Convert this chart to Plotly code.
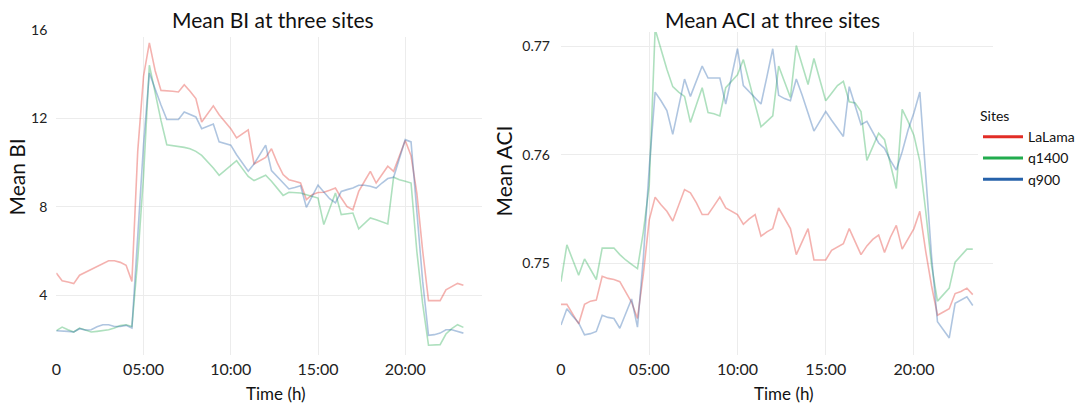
import plotly.graph_objects as go

# ---------------- data (20-min sampling, 00:00 .. 23:20) ----------------
minutes = list(range(0, 1420, 20))
hours = [m / 60 for m in minutes]

sites = ["LaLama", "q1400", "q900"]
site_colors = {"LaLama": (226, 45, 38), "q1400": (34, 172, 78), "q900": (38, 98, 170)}

bi_lalama = [5.0, 4.65, 4.59, 4.52, 4.9, 5.03, 5.15, 5.27, 5.41, 5.55, 5.55, 5.48, 5.35, 4.62,
             10.5, 13.9, 15.41, 14.15, 13.26, 13.25, 13.22, 13.19, 13.52, 13.22, 12.89, 11.83,
             12.19, 12.56, 12.16, 11.86, 11.53, 11.11, 11.29, 11.47, 9.93, 10.08, 10.23, 10.62,
             9.98, 9.45, 9.22, 9.15, 9.07, 8.32, 8.54, 8.64, 8.65, 8.74, 8.84, 8.39, 8.0, 7.86,
             8.69, 9.15, 9.6, 9.07, 9.45, 9.83, 9.6, 10.28, 10.99, 10.3, 8.6, 6.0, 3.75, 3.75,
             3.75, 4.24, 4.4, 4.53, 4.44]
bi_q1400 = [2.39, 2.55, 2.43, 2.33, 2.51, 2.43, 2.33, 2.36, 2.39, 2.43, 2.51, 2.62, 2.66, 2.58,
            5.6, 9.4, 14.4, 13.1, 11.9, 10.8, 10.77, 10.73, 10.68, 10.62, 10.5, 10.32, 10.05,
            9.75, 9.42, 9.64, 9.86, 10.08, 9.72, 9.37, 9.18, 9.3, 9.42, 9.15, 8.84, 8.51, 8.65,
            8.65, 8.62, 8.54, 8.47, 8.39, 7.19, 7.9, 8.62, 7.64, 7.68, 7.71, 7.0, 7.26, 7.49,
            7.41, 7.31, 7.22, 9.33, 9.22, 9.15, 9.07, 5.96, 3.6, 1.73, 1.73, 1.76, 2.24, 2.48,
            2.66, 2.54]
bi_q900 = [2.39, 2.39, 2.36, 2.33, 2.48, 2.42, 2.43, 2.57, 2.66, 2.66, 2.58, 2.58, 2.63, 2.51,
           6.6, 10.8, 14.05, 13.3, 12.6, 11.94, 11.94, 11.94, 12.28, 12.16, 12.06, 11.53, 11.63,
           11.74, 10.93, 10.85, 10.78, 10.35, 9.98, 9.6, 9.93, 10.35, 10.78, 9.63, 9.34, 9.07,
           8.8, 8.87, 8.95, 7.97, 8.47, 8.97, 8.66, 8.36, 8.17, 8.69, 8.77, 8.84, 8.97, 8.97,
           8.92, 8.84, 9.07, 9.27, 9.33, 10.2, 11.03, 10.93, 7.74, 4.62, 2.18, 2.21, 2.28, 2.43,
           2.43, 2.36, 2.28]

aci_lalama = [0.7462, 0.7462, 0.7453, 0.7444, 0.7462, 0.7465, 0.7466, 0.7488, 0.7486, 0.7485,
              0.7483, 0.7474, 0.7464, 0.7449, 0.7490, 0.7540, 0.7561, 0.7554, 0.7548, 0.7539,
              0.7554, 0.7568, 0.7565, 0.7556, 0.7545, 0.7545, 0.7553, 0.7561, 0.7551, 0.7548,
              0.7545, 0.7536, 0.7541, 0.7545, 0.7525, 0.7529, 0.7532, 0.7551, 0.7542, 0.7532,
              0.7508, 0.7520, 0.7532, 0.7503, 0.7503, 0.7503, 0.7512, 0.7515, 0.7518, 0.7532,
              0.7520, 0.7508, 0.7516, 0.7522, 0.7526, 0.7510, 0.7524, 0.7535, 0.7513, 0.7523,
              0.7532, 0.7548, 0.7511, 0.7479, 0.7452, 0.7455, 0.7458, 0.7472, 0.7474, 0.7477,
              0.7471]
aci_q1400 = [0.7483, 0.7517, 0.7503, 0.7489, 0.7504, 0.7495, 0.7485, 0.7514, 0.7514, 0.7514,
             0.7508, 0.7503, 0.7499, 0.7495, 0.7529, 0.7572, 0.7716, 0.7697, 0.7679, 0.7663,
             0.7658, 0.7654, 0.7630, 0.7646, 0.7662, 0.7639, 0.7638, 0.7636, 0.7662, 0.7668,
             0.7674, 0.7688, 0.7668, 0.7646, 0.7626, 0.7631, 0.7636, 0.7682, 0.7667, 0.7653,
             0.7701, 0.7683, 0.7665, 0.7689, 0.7669, 0.7650, 0.7657, 0.7664, 0.7668, 0.7649,
             0.7648, 0.7640, 0.7595, 0.7608, 0.7620, 0.7614, 0.7591, 0.7569, 0.7642, 0.7631,
             0.7618, 0.7594, 0.7548, 0.7498, 0.7465, 0.7471, 0.7477, 0.7501, 0.7507, 0.7513,
             0.7513]
aci_q900 = [0.7443, 0.7458, 0.7451, 0.7445, 0.7434, 0.7435, 0.7437, 0.7452, 0.7450, 0.7449,
            0.7440, 0.7453, 0.7467, 0.7441, 0.7505, 0.7588, 0.7658, 0.7650, 0.7641, 0.7619,
            0.7645, 0.7670, 0.7654, 0.7668, 0.7682, 0.7671, 0.7671, 0.7671, 0.7647, 0.7672,
            0.7698, 0.7664, 0.7658, 0.7653, 0.7647, 0.7672, 0.7698, 0.7655, 0.7652, 0.7650,
            0.7670, 0.7655, 0.7638, 0.7622, 0.7631, 0.7640, 0.7632, 0.7624, 0.7617, 0.7663,
            0.7646, 0.7628, 0.7631, 0.7621, 0.7611, 0.7606, 0.7595, 0.7586, 0.7603, 0.7623,
            0.7639, 0.7658, 0.7578, 0.7506, 0.7446, 0.7438, 0.7431, 0.7463, 0.7466, 0.7469,
            0.7461]

bi_data = {"LaLama": bi_lalama, "q1400": bi_q1400, "q900": bi_q900}
aci_data = {"LaLama": aci_lalama, "q1400": aci_q1400, "q900": aci_q900}

tick_vals = [0, 5, 10, 15, 20]
tick_text = ["0", "05:00", "10:00", "15:00", "20:00"]

# ---------------- layout helpers ----------------
W, H = 1084, 405
FONT = "Lato"
def fx(p):
    return p / W
def fy(p):
    return 1 - p / H

def rgba(c, a):
    return "rgba(%d,%d,%d,%.2f)" % (c[0], c[1], c[2], a)

fig = go.Figure()
for s in sites:
    c = site_colors[s]
    fig.add_trace(go.Scatter(x=hours, y=bi_data[s], mode="lines", name=s, showlegend=False,
                             line=dict(color=rgba(c, 0.37), width=1.6), xaxis="x", yaxis="y",
                             hoverinfo="skip"))
    fig.add_trace(go.Scatter(x=hours, y=aci_data[s], mode="lines", name=s, showlegend=False,
                             line=dict(color=rgba(c, 0.37), width=1.6), xaxis="x2", yaxis="y2",
                             hoverinfo="skip"))
for s in sites:
    fig.add_trace(go.Scatter(x=[None], y=[None], mode="lines", name=s,
                             line=dict(color=rgba(site_colors[s], 1), width=3),
                             xaxis="x2", yaxis="y2"))

grid = "#ececec"
common_x = dict(tickvals=tick_vals, ticktext=tick_text, showgrid=True, gridcolor=grid,
                gridwidth=1, zeroline=False, showline=False, ticks="", ticklabelstandoff=3,
                tickfont=dict(family=FONT, size=16, color="#222"), automargin=False)
common_y = dict(showgrid=True, gridcolor=grid, gridwidth=1, zeroline=False, showline=False,
                ticks="", tickfont=dict(family=FONT, size=14, color="#222"), automargin=False)

fig.update_layout(
    width=W, height=H,
    margin=dict(l=0, r=0, t=0, b=0),
    paper_bgcolor="white", plot_bgcolor="white",
    font=dict(family=FONT, color="#111"),
    xaxis=dict(domain=[fx(56.3), fx(482)], range=[0, 24.4], anchor="y", **common_x),
    yaxis=dict(domain=[fy(355), fy(29.8)], range=[1.29, 16.0], tickvals=[4, 8, 12, 16],
               anchor="x", ticklabelstandoff=8, **common_y),
    xaxis2=dict(domain=[fx(561), fx(993)], range=[0, 24.48], anchor="y2", **common_x),
    yaxis2=dict(domain=[fy(355), fy(13)], range=[0.74153, 0.7731], tickvals=[0.75, 0.76, 0.77],
                tickformat=".2f", anchor="x2", ticklabelstandoff=10, **common_y),
    legend=dict(x=fx(978), y=fy(103), xanchor="left", yanchor="top", bgcolor="white",
                title=dict(text="Sites", font=dict(family=FONT, size=14, color="#111")),
                font=dict(family=FONT, size=14, color="#111"), itemwidth=40),
    showlegend=True,
)

# white title backgrounds (cover the top of the panels)
fig.add_shape(type="rect", xref="paper", yref="paper", x0=fx(96), x1=fx(450), y0=fy(37), y1=fy(0),
              fillcolor="white", line=dict(width=0), layer="above")
fig.add_shape(type="rect", xref="paper", yref="paper", x0=fx(596), x1=fx(950), y0=fy(32), y1=fy(0),
              fillcolor="white", line=dict(width=0), layer="above")

ann = [
    dict(text="Mean BI at three sites", x=fx(272.5), y=fy(19), size=21, angle=0),
    dict(text="Mean ACI at three sites", x=fx(773), y=fy(19), size=21, angle=0),
    dict(text="Mean BI", x=fx(16), y=fy(177.5), size=21, angle=-90),
    dict(text="Mean ACI", x=fx(502.5), y=fy(171), size=21, angle=-90),
    dict(text="Time (h)", x=fx(276), y=fy(393.5), size=17, angle=0),
    dict(text="Time (h)", x=fx(784), y=fy(393.5), size=17, angle=0),
]
for a in ann:
    fig.add_annotation(text=a["text"], x=a["x"], y=a["y"], xref="paper", yref="paper",
                       xanchor="center", yanchor="middle", showarrow=False, textangle=a["angle"],
                       font=dict(family=FONT, size=a["size"], color="#111"))

fig.write_html("out.html")
